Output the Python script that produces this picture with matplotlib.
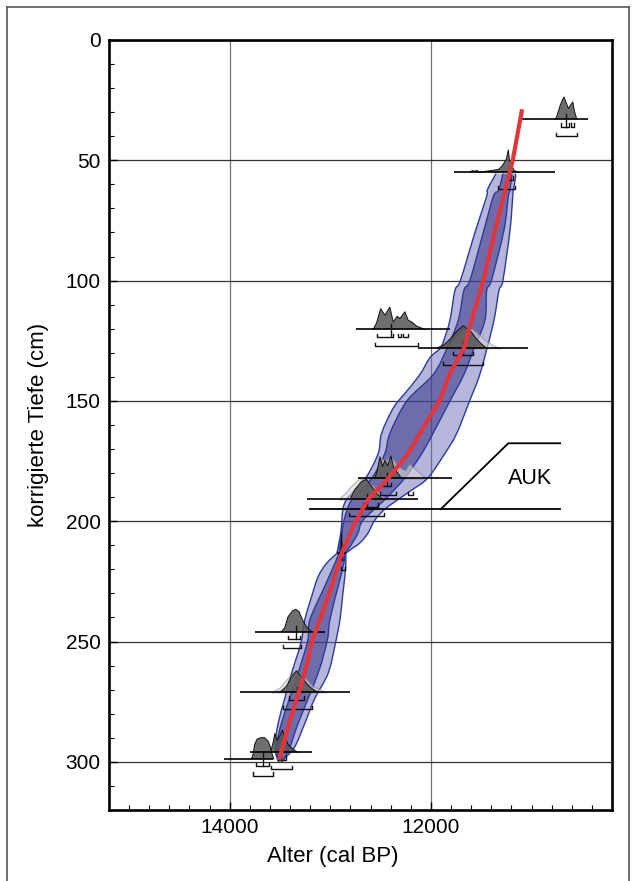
import matplotlib
matplotlib.use("Agg")
import matplotlib.pyplot as plt
from matplotlib.ticker import MultipleLocator, FixedLocator
from matplotlib.lines import Line2D
from matplotlib.path import Path
from matplotlib.patches import PathPatch

plt.rcParams["font.family"] = ["Liberation Sans", "DejaVu Sans"]

# Farben
RED = "#e4343c"
EDGE = "#2b3b9b"
BAND95 = "#6e6cb9"
BAND68 = "#333085"
DARK = "#555555"
LIGHT = "#d8d8d8"

# ---- Altersmodell: Median (rote Linie) ----
MED_DEPTH = [28.8, 50, 79, 99.8, 116.4, 128.2, 138.5, 149.6, 163.5, 171.8, 182.2,
             190.9, 202, 213.3, 227, 241, 249.4, 263, 284, 299.3]
MED_AGE = [11094, 11187, 11363, 11478, 11595, 11672, 11811, 11910, 12109, 12226, 12425,
           12624, 12773, 12886, 12988, 13104, 13179, 13254, 13410, 13509]

# ---- 95 %-Bereich, oberer Abschnitt (55-213 cm) ----
O95U_L_DEPTH = [55.5, 57, 62.3, 65, 79, 99.8, 104, 116.4, 124.7, 128.2, 132, 139, 146,
                153, 163.5, 171.8, 182, 187, 191, 195, 202, 207, 213.4]
O95U_L_AGE = [11353, 11373, 11440, 11446, 11555, 11706, 11761, 11811, 11871, 11910, 12010,
              12109, 12242, 12375, 12491, 12524, 12647, 12756, 12839, 12876, 12889, 12905, 12935]
O95U_R_DEPTH = [55.5, 57, 62.3, 65, 79, 99.8, 104, 116.4, 128.2, 140, 149.6, 163.5, 171.8,
                182, 187, 191, 195, 199.5, 205, 209, 212, 213.4]
O95U_R_AGE = [11164, 11159, 11181, 11187, 11214, 11284, 11323, 11373, 11443, 11522, 11612,
              11744, 11861, 12030, 12189, 12328, 12458, 12557, 12627, 12706, 12806, 12846]
# ---- 95 %-Bereich, unterer Abschnitt (213-300 cm) ----
O95L_DEPTH = [213.4, 217.5, 223, 231.4, 241, 250.8, 263.2, 273.6, 284, 293.7, 298.5, 300]
O95L_L_AGE = [12935, 13038, 13121, 13187, 13254, 13294, 13386, 13453, 13519, 13552, 13529, 13512]
O95L_R_AGE = [12846, 12846, 12856, 12879, 12905, 12950, 13022, 13154, 13254, 13353, 13453, 13483]

# ---- 68 %-Bereich ----
I68U_DEPTH = [55.5, 62.3, 65, 79, 99.8, 104, 116.4, 128.2, 139, 150, 163.5, 171.8, 182,
              191, 199.5, 205, 210, 213.4]
I68U_L_AGE = [11284, 11326, 11380, 11473, 11612, 11672, 11728, 11841, 11977, 12239, 12408,
              12458, 12587, 12786, 12863, 12886, 12905, 12915]
I68U_R_AGE = [11194, 11214, 11231, 11274, 11398, 11446, 11463, 11572, 11672, 11811, 11980,
              12090, 12259, 12458, 12674, 12726, 12796, 12856]
I68L_DEPTH = [213.4, 217.5, 227, 241, 249.4, 263, 284, 294, 299.5]
I68L_L_AGE = [12915, 12955, 13055, 13204, 13224, 13320, 13486, 13532, 13515]
I68L_R_AGE = [12856, 12866, 12922, 13005, 13030, 13121, 13320, 13403, 13470]

# ---- kalibrierte Datierungen ----
# Tiefe, Grundlinie, Dichte (dunkel = modelliert, hell = unmodelliert), 1s/2s-Bereiche, Median
D1_DEPTH, D1_BASE = 33.0, (11095, 10438)
D1_AGE = [10766, 10750, 10716, 10690, 10677, 10660, 10634, 10600, 10590, 10575, 10550]
D1_P = [0, 0.13, 0.62, 0.9, 1.0, 0.8, 0.49, 0.72, 0.78, 0.4, 0]
D1_S1, D1_S2, D1_MED = [(10710, 10630), (10607, 10574)], [(10756, 10550)], 10657

D2_DEPTH, D2_BASE = 55.0, (11771, 10766)
D2_AGE = [11610, 11590, 11570, 11540, 11520, 11330, 11300, 11281, 11250, 11231, 11220,
          11204, 11174, 11134]
D2_P = [0, 0.08, 0.05, 0.08, 0, 0.13, 0.25, 0.36, 0.6, 1.0, 0.55, 0.36, 0.09, 0]
D2_S1, D2_S2, D2_MED = [(11247, 11187)], [(11330, 11164)], 11225

D3_DEPTH, D3_BASE = 120.3, (12746, 11811)
D3_AGE = [12574, 12540, 12500, 12458, 12408, 12375, 12335, 12308, 12259, 12226, 12192,
          12142, 12060]
D3_P = [0, 0.3, 0.93, 0.64, 1.0, 0.34, 0.59, 0.49, 0.79, 0.41, 0.34, 0.15, 0]
D3_S1 = [(12540, 12375), (12331, 12299), (12276, 12232)]
D3_S2, D3_MED = [(12557, 12126)], 12401

D4_DEPTH, D4_BASE = 128.1, (12126, 11032)
D4_AGE = [11943, 11878, 11811, 11744, 11679, 11612, 11545, 11496, 11446]
D4_P = [0, 0.13, 0.4, 0.76, 1.0, 0.8, 0.4, 0.18, 0]
D4_LAGE = [11910, 11811, 11728, 11629, 11545, 11446, 11363, 11297]
D4_LP = [0, 0.22, 0.67, 1.0, 0.71, 0.31, 0.09, 0]
D4_S1, D4_S2, D4_MED = [(11778, 11579)], [(11878, 11480)], 11679

D5_DEPTH, D5_BASE = 182.2, (12723, 11794)
D5_AGE = [12557, 12534, 12507, 12481, 12458, 12431, 12398, 12368, 12335, 12292]
D5_P = [0, 0.36, 0.96, 0.53, 0.8, 0.58, 1.0, 0.44, 0.27, 0]
D5_LAGE = [12557, 12507, 12458, 12398, 12335, 12292, 12259, 12216, 12159, 12109, 12043]
D5_LP = [0, 0.93, 0.8, 0.98, 0.6, 0.44, 0.36, 0.67, 0.44, 0.22, 0]
D5_S1, D5_S2, D5_MED = [(12480, 12400)], [(12510, 12350), (12229, 12179)], 12440

D6_DEPTH, D6_BASE = 190.9, (13234, 12129)
D6_AGE = [12806, 12756, 12690, 12640, 12590, 12540, 12475]
D6_P = [0, 0.44, 0.8, 0.89, 0.58, 0.27, 0]
D6_LAGE = [12922, 12856, 12789, 12723, 12657, 12574, 12507, 12441]
D6_LP = [0, 0.27, 0.62, 0.89, 0.93, 0.62, 0.27, 0]
D6_S1, D6_S2, D6_MED = [(12674, 12524)], [(12813, 12468)], 12640

D8_DEPTH, D8_BASE = 213.3, (12935, 12845)
D8_AGE = [12900, 12893, 12888, 12883, 12876]
D8_P = [0, 0.3, 0.9, 0.3, 0]
D8_S1, D8_S2, D8_MED = [(12893, 12880)], [(12898, 12856)], 12888

D9_DEPTH, D9_BASE = 245.9, (13751, 13055)
D9_AGE = [13486, 13453, 13420, 13376, 13343, 13310, 13277, 13237, 13187]
D9_P = [0, 0.18, 0.67, 0.93, 1.0, 0.89, 0.53, 0.22, 0]
D9_S1, D9_S2, D9_MED = [(13420, 13303)], [(13470, 13287)], 13343

D10_DEPTH, D10_BASE = 271.1, (13900, 12806)
D10_AGE = [13502, 13436, 13386, 13336, 13287, 13237, 13187, 13121]
D10_P = [0, 0.27, 0.71, 0.96, 0.71, 0.4, 0.18, 0]
D10_LAGE = [13585, 13502, 13436, 13370, 13320, 13254, 13171, 13038]
D10_LP = [0, 0.22, 0.58, 0.89, 0.93, 0.67, 0.27, 0]
D10_S1, D10_S2, D10_MED = [(13410, 13264)], [(13470, 13187)], 13336

D11_DEPTH, D11_BASE = 296.05, (13794, 13180)
D11_AGE = [13595, 13569, 13552, 13529, 13495, 13476, 13453, 13420, 13370, 13320]
D11_P = [0, 0.44, 0.84, 0.53, 0.8, 1.0, 0.67, 0.36, 0.13, 0]
D11_S1, D11_S2, D11_MED = [(13519, 13436)], [(13585, 13386)], 13495

D12_DEPTH, D12_BASE = 298.8, (14060, 13569)
D12_AGE = [13784, 13768, 13751, 13728, 13694, 13652, 13619, 13595, 13579, 13562]
D12_P = [0, 0.22, 0.67, 0.89, 0.95, 0.95, 0.8, 0.53, 0.22, 0]
D12_S1, D12_S2, D12_MED = [(13734, 13609)], [(13768, 13569)], 13669

# Grenze AUK (Linienzug + Text)
AUK_DEPTH_TOP, AUK_DEPTH_BOT = 167.6, 195.0
AUK_AGE_KINK_TOP, AUK_AGE_KINK_BOT = 11231, 11903
AUK_AGE_END, AUK_AGE_START = 10716, 13204
AUK_TEXT_AGE, AUK_TEXT_DEPTH = 11015, 182.2

H = 9.3          # Höhe einer Dichte (cm) bei p = 1
S1_OFF, S2_OFF, BR_UP = 3.0, 6.9, 1.3

fig = plt.figure(figsize=(6.36, 8.81), dpi=100)
ax = fig.add_axes([0.1714, 0.0806, 0.7909, 0.874])

# Rahmen um die ganze Abbildung (unten offen)
for xs, ys in [([0.011, 0.011], [0, 0.992]), ([0.989, 0.989], [0, 0.992]),
               ([0.011, 0.989], [0.992, 0.992])]:
    fig.add_artist(Line2D(xs, ys, transform=fig.transFigure, color="#555555", lw=1.2))


def curve(xs, ys):
    """Glatter Verlauf durch die Punkte (Catmull-Rom als Bezier)."""
    pts = list(zip(xs, ys))
    verts, codes = [pts[0]], [Path.MOVETO]
    n = len(pts)
    for i in range(n - 1):
        p0 = pts[i - 1] if i > 0 else pts[i]
        p1, p2 = pts[i], pts[i + 1]
        p3 = pts[i + 2] if i + 2 < n else pts[i + 1]
        c1 = (p1[0] + (p2[0] - p0[0]) / 6, p1[1] + (p2[1] - p0[1]) / 6)
        c2 = (p2[0] - (p3[0] - p1[0]) / 6, p2[1] - (p3[1] - p1[1]) / 6)
        verts += [c1, c2, p2]
        codes += [Path.CURVE4] * 3
    return verts, codes


def band(lx, ly, rx, ry, color, alpha, z):
    v1, c1 = curve(lx, ly)
    v2, c2 = curve(rx[::-1], ry[::-1])
    c2[0] = Path.LINETO
    verts = v1 + v2 + [v1[0]]
    codes = c1 + c2 + [Path.CLOSEPOLY]
    ax.add_patch(PathPatch(Path(verts, codes), facecolor=color, alpha=alpha,
                           edgecolor="none", zorder=z))
    for v, c in [(v1, c1), curve(rx, ry)]:
        ax.add_patch(PathPatch(Path(v, c), facecolor="none", edgecolor=EDGE,
                               lw=1.0, zorder=4.2))


def draw_date(depth, base, age, p, s1, s2, med, lage=None, lp=None):
    ax.plot(base, [depth, depth], color="black", lw=1.2, zorder=5.5,
            solid_capstyle="butt")
    if lage is not None:
        top = [depth - v * H for v in lp]
        ax.fill_between(lage, depth, top, facecolor=LIGHT, edgecolor="#7a7a7a",
                        lw=0.7, alpha=0.6, zorder=5)
    top = [depth - v * H for v in p]
    ax.fill_between(age, depth, top, facecolor=DARK, edgecolor="none", alpha=0.85, zorder=5.1)
    ax.plot(age, top, color="#111111", lw=0.7, zorder=5.2)
    for off, ranges in [(S1_OFF, s1), (S2_OFF, s2)]:
        y = depth + off
        for a0, a1 in ranges:
            ax.plot([a0, a0, a1, a1], [y - BR_UP, y, y, y - BR_UP], color="#111111",
                    lw=1.0, zorder=5.5)
    ax.plot([med, med], [depth - 2.4, depth + S1_OFF], color="#111111", lw=1.0, zorder=5.5)


# Unsicherheitsbänder (95 % hell, 68 % dunkel)
band(O95U_L_AGE, O95U_L_DEPTH, O95U_R_AGE, O95U_R_DEPTH, BAND95, 0.5, 4)
band(O95L_L_AGE, O95L_DEPTH, O95L_R_AGE, O95L_DEPTH, BAND95, 0.5, 4)
band(I68U_L_AGE, I68U_DEPTH, I68U_R_AGE, I68U_DEPTH, BAND68, 0.55, 4.1)
band(I68L_L_AGE, I68L_DEPTH, I68L_R_AGE, I68L_DEPTH, BAND68, 0.55, 4.1)

draw_date(D1_DEPTH, D1_BASE, D1_AGE, D1_P, D1_S1, D1_S2, D1_MED)
draw_date(D2_DEPTH, D2_BASE, D2_AGE, D2_P, D2_S1, D2_S2, D2_MED)
draw_date(D3_DEPTH, D3_BASE, D3_AGE, D3_P, D3_S1, D3_S2, D3_MED)
draw_date(D4_DEPTH, D4_BASE, D4_AGE, D4_P, D4_S1, D4_S2, D4_MED, D4_LAGE, D4_LP)
draw_date(D5_DEPTH, D5_BASE, D5_AGE, D5_P, D5_S1, D5_S2, D5_MED, D5_LAGE, D5_LP)
draw_date(D6_DEPTH, D6_BASE, D6_AGE, D6_P, D6_S1, D6_S2, D6_MED, D6_LAGE, D6_LP)
draw_date(D8_DEPTH, D8_BASE, D8_AGE, D8_P, D8_S1, D8_S2, D8_MED)
draw_date(D9_DEPTH, D9_BASE, D9_AGE, D9_P, D9_S1, D9_S2, D9_MED)
draw_date(D10_DEPTH, D10_BASE, D10_AGE, D10_P, D10_S1, D10_S2, D10_MED, D10_LAGE, D10_LP)
draw_date(D11_DEPTH, D11_BASE, D11_AGE, D11_P, D11_S1, D11_S2, D11_MED)
draw_date(D12_DEPTH, D12_BASE, D12_AGE, D12_P, D12_S1, D12_S2, D12_MED)

ax.plot(MED_AGE, MED_DEPTH, color=RED, lw=3.0, zorder=6, solid_capstyle="butt")

# AUK-Markierung
ax.plot([AUK_AGE_START, AUK_AGE_END], [AUK_DEPTH_BOT, AUK_DEPTH_BOT], color="black", lw=1.3, zorder=5)
ax.plot([AUK_AGE_KINK_BOT, AUK_AGE_KINK_TOP, AUK_AGE_END],
        [AUK_DEPTH_BOT, AUK_DEPTH_TOP, AUK_DEPTH_TOP], color="black", lw=1.3, zorder=5)
ax.text(AUK_TEXT_AGE, AUK_TEXT_DEPTH, "AUK", fontsize=15.5, ha="center", va="center", zorder=5)

ax.set_xlim(15200, 10200)
ax.set_ylim(320, 0)
ax.xaxis.set_major_locator(FixedLocator([14000, 12000]))
ax.xaxis.set_minor_locator(MultipleLocator(200))
ax.yaxis.set_major_locator(MultipleLocator(50))
ax.yaxis.set_minor_locator(MultipleLocator(10))
ax.tick_params(which="both", direction="in", labelsize=15, color="black")
ax.tick_params(which="major", length=6, width=1.0, pad=6)
ax.tick_params(which="minor", length=3.5, width=0.8)
ax.grid(axis="x", which="major", color="#707070", lw=0.9, zorder=0.5)
ax.grid(axis="y", which="major", color="#333333", lw=0.9, zorder=0.5)
ax.set_axisbelow(True)
for s in ax.spines.values():
    s.set_linewidth(1.9)
    s.set_zorder(7)

ax.set_ylabel("korrigierte Tiefe (cm)", fontsize=16)
ax.set_xlabel("Alter (cal BP)", fontsize=16)
ax.yaxis.set_label_coords(-0.12, 0.5)
ax.xaxis.set_label_coords(0.445, -0.047)

fig.savefig("out.png", dpi=100, facecolor="white")
